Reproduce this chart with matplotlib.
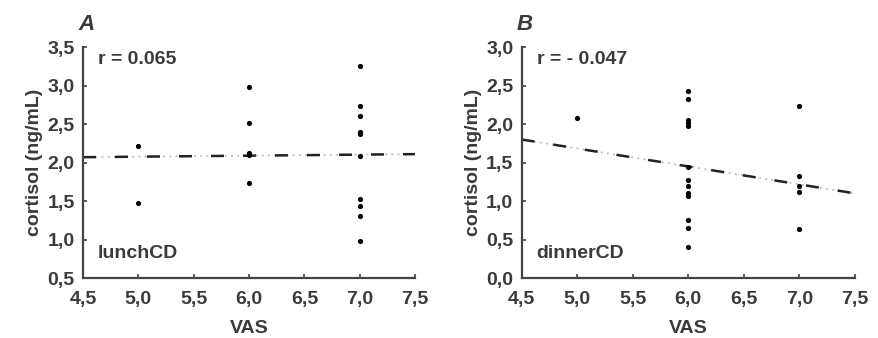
import numpy as np
import matplotlib
matplotlib.use("Agg")
import matplotlib.pyplot as plt

# ====== data ======
vas_a = [5, 5, 6, 6, 6, 6, 6, 7, 7, 7, 7, 7, 7, 7, 7, 7, 7]
cort_a = [2.22, 1.47, 2.98, 2.51, 2.13, 2.10, 1.73,
          3.26, 2.74, 2.60, 2.40, 2.37, 2.08, 1.53, 1.43, 1.30, 0.98]
fit_a = [2.07, 2.11]  # regression line at x = 4.5 and 7.5

vas_b = [5, 6, 6, 6, 6, 6, 6, 6, 6, 6, 6, 6, 6, 6, 7, 7, 7, 7, 7]
cort_b = [2.08, 2.43, 2.32, 2.05, 2.01, 1.98, 1.44, 1.28, 1.19, 1.10, 1.07,
          0.75, 0.65, 0.40, 2.24, 1.32, 1.20, 1.12, 0.64]
fit_b = [1.80, 1.10]

fit_x = [4.5, 7.5]
xticks = [4.5, 5.0, 5.5, 6.0, 6.5, 7.0, 7.5]
yticks_a = [0.5, 1.0, 1.5, 2.0, 2.5, 3.0, 3.5]
yticks_b = [0.0, 0.5, 1.0, 1.5, 2.0, 2.5, 3.0]

plt.rcParams['font.family'] = ['Liberation Sans', 'DejaVu Sans']
plt.rcParams['font.weight'] = 'bold'
txt = '#3a3a3a'
axcol = '#444444'
fs = 14

fig = plt.figure(figsize=(8.79, 3.38), dpi=100)
ax_a = fig.add_axes([0.0944, 0.1775, 0.378, 0.683])
ax_b = fig.add_axes([0.5935, 0.1775, 0.379, 0.683])


def comma(v):
    return f"{v:.1f}".replace('.', ',')


def draw(ax, x, y, fit, yticks, rtext, name, letter):
    ax.scatter(x, y, s=14, color='black', zorder=3, linewidths=0)
    ax.plot(fit_x, fit, color='#bbbbbb', lw=1.2, ls=(0, (1.2, 2.5)), zorder=2)
    ax.plot(fit_x, fit, color='#222222', lw=1.8, ls=(0, (5.2, 7.6)), zorder=2)
    ax.set_xlim(4.5, 7.5)
    ax.set_ylim(yticks[0], yticks[-1])
    ax.set_xticks(xticks)
    ax.set_xticklabels([comma(v) for v in xticks])
    ax.set_yticks(yticks)
    ax.set_yticklabels([comma(v) for v in yticks])
    for s in ['top', 'right']:
        ax.spines[s].set_visible(False)
    for s in ['left', 'bottom']:
        ax.spines[s].set_color(axcol)
        ax.spines[s].set_linewidth(1.6)
    ax.tick_params(direction='in', length=3, width=1.2, color=axcol,
                   labelsize=fs, labelcolor=txt)
    ax.tick_params(axis='x', pad=9)
    ax.tick_params(axis='y', pad=6)
    ax.set_xlabel('VAS', fontsize=fs, color=txt, fontweight='bold', labelpad=9)
    ax.set_ylabel('cortisol (ng/mL)', fontsize=fs, color=txt, fontweight='bold',
                  labelpad=3)
    ax.text(0.045, 0.945, rtext, transform=ax.transAxes, fontsize=fs,
            color=txt, fontweight='bold', va='center', ha='left')
    ax.text(0.045, 0.104, name, transform=ax.transAxes, fontsize=fs,
            color=txt, fontweight='bold', va='center', ha='left')
    ax.text(0.01, 1.10, letter, transform=ax.transAxes, fontsize=16,
            color=txt, fontweight='bold', style='italic', va='center', ha='center')


draw(ax_a, vas_a, cort_a, fit_a, yticks_a, 'r = 0.065', 'lunchCD', 'A')
draw(ax_b, vas_b, cort_b, fit_b, yticks_b, 'r = - 0.047', 'dinnerCD', 'B')

fig.savefig('out.png', dpi=100)
